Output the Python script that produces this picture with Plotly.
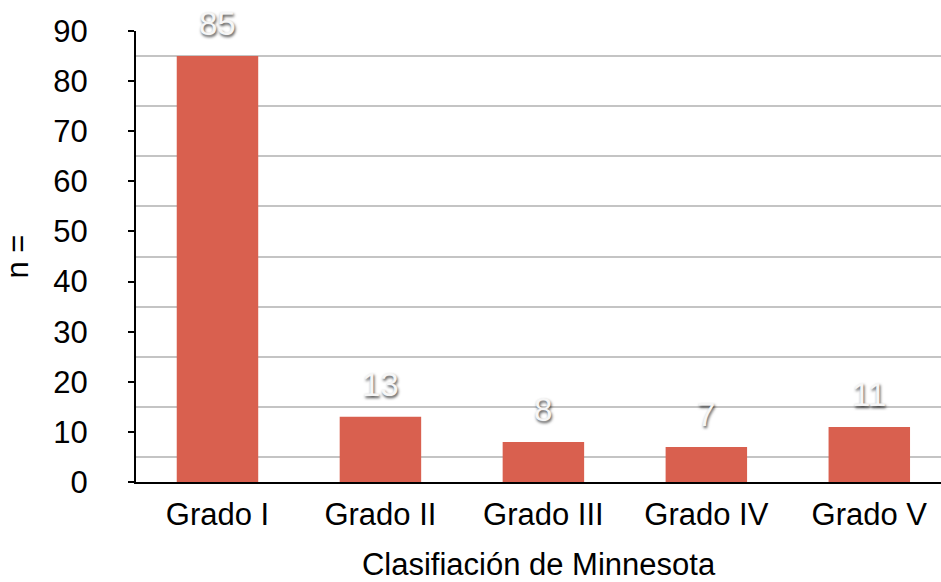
import plotly.graph_objects as go

categories = ["Grado I", "Grado II", "Grado III", "Grado IV", "Grado V"]
values = [85, 13, 8, 7, 11]
y_ticks = [0, 10, 20, 30, 40, 50, 60, 70, 80, 90]

FONT = "Liberation Sans, Arial, Helvetica, sans-serif"

fig = go.Figure()
fig.add_trace(go.Bar(
    x=categories, y=values, width=0.5,
    marker=dict(color="#d9604f", line=dict(width=0)),
    hoverinfo="skip",
))

for c, v in zip(categories, values):
    fig.add_annotation(
        x=c, y=v, text=str(v), showarrow=False, yanchor="bottom", yshift=12,
        font=dict(family=FONT, size=33, color="#f6f6f6",
                  shadow="1px 2px 3px rgba(0,0,0,0.7)"),
    )

fig.update_layout(
    width=941, height=582,
    margin=dict(l=136, r=0, t=31, b=100),
    paper_bgcolor="white", plot_bgcolor="white",
    showlegend=False,
    font=dict(family=FONT, size=31, color="black"),
    xaxis=dict(
        range=[-0.5, 4.44], showgrid=False, showline=True, linecolor="black",
        linewidth=2, ticks="", tickfont=dict(size=31), ticklabelstandoff=4,
        title=dict(text="Clasifiación de Minnesota", font=dict(size=31), standoff=29),
    ),
    yaxis=dict(
        range=[0, 90], tickvals=y_ticks, showgrid=False, showline=True,
        linecolor="black", linewidth=2, ticks="outside", ticklen=6,
        tickwidth=2, tickcolor="black", tickfont=dict(size=31),
        ticklabelstandoff=34, zeroline=False,
        minor=dict(tick0=5, dtick=10, showgrid=True, gridcolor="#c4c4c4",
                   gridwidth=1.5, ticks=""),
        title=dict(text="n =", font=dict(size=31), standoff=26),
    ),
)

fig.write_html("out.html")
